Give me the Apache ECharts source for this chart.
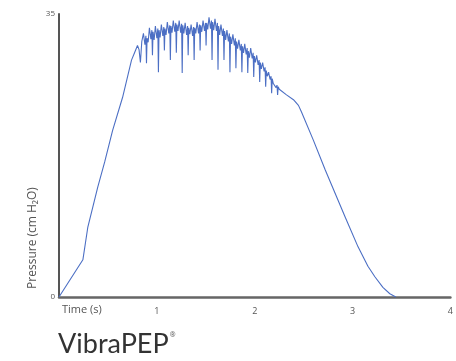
<!DOCTYPE html>
<html>
<head>
<meta charset="utf-8">
<script src="https://cdn.jsdelivr.net/npm/echarts@6/dist/echarts.min.js"></script>
<style>
  html, body { margin: 0; padding: 0; background: #fff; }
  #chart { width: 456px; height: 361px; }
</style>
</head>
<body>
<div id="chart"></div>
<script>
// Pressure trace during one exhalation through the device:
// rise, oscillating plateau, then release back to zero.
const timeSec = [
  // rise
  0.000, 0.244, 0.294, 0.396, 0.467, 0.548, 0.650, 0.741, 0.772, 0.802, 0.818, 0.832, 0.846,
  // oscillating plateau
  0.863, 0.878, 0.888, 0.894, 0.900, 0.911,
  0.924, 0.939, 0.949, 0.955, 0.961, 0.972,
  0.985, 1.000, 1.010, 1.016, 1.022, 1.033,
  1.046, 1.061, 1.071, 1.077, 1.083, 1.094,
  1.107, 1.122, 1.132, 1.138, 1.144, 1.155,
  1.168, 1.183, 1.193, 1.199, 1.205, 1.216,
  1.228, 1.243, 1.253, 1.259, 1.265, 1.276,
  1.289, 1.304, 1.314, 1.320, 1.326, 1.337,
  1.350, 1.365, 1.375, 1.381, 1.387, 1.398,
  1.411, 1.426, 1.436, 1.442, 1.448, 1.459,
  1.472, 1.487, 1.497, 1.503, 1.509, 1.520,
  1.533, 1.548, 1.558, 1.564, 1.570, 1.581,
  1.594, 1.609, 1.619, 1.625, 1.631, 1.642,
  1.655, 1.670, 1.680, 1.686, 1.692, 1.703,
  1.716, 1.731, 1.741, 1.747, 1.753, 1.764,
  1.777, 1.792, 1.802, 1.808, 1.814, 1.825,
  1.838, 1.853, 1.863, 1.869, 1.875, 1.886,
  1.898, 1.913, 1.923, 1.929, 1.935, 1.946,
  1.959, 1.974, 1.984, 1.990, 1.996, 2.007,
  2.020, 2.035, 2.045, 2.051, 2.057, 2.068,
  2.081, 2.096, 2.106, 2.112, 2.118, 2.129,
  2.142, 2.157, 2.167, 2.173, 2.179, 2.190,
  2.203, 2.218, 2.228, 2.234, 2.240, 2.251,
  // release
  2.264, 2.325, 2.396, 2.447, 2.477, 2.599, 2.721, 2.924, 3.056, 3.157,
  3.228, 3.310, 3.381, 3.442
];
const pressureCmH2O = [
  0.0, 4.6, 8.6, 13.6, 16.7, 20.6, 24.7, 29.3, 30.2, 31.1, 30.6, 29.0, 31.6,
  32.6, 31.2, 32.3, 28.9, 32.0, 31.5,
  33.3, 31.9, 33.0, 29.9, 32.8, 31.8,
  33.5, 32.0, 33.2, 27.8, 33.0, 32.1,
  33.7, 32.3, 33.4, 30.5, 33.2, 32.4,
  34.0, 32.6, 33.6, 29.3, 33.5, 32.7,
  34.2, 32.8, 33.9, 30.2, 33.7, 32.9,
  34.2, 32.7, 33.8, 27.7, 33.6, 32.6,
  33.9, 32.4, 33.5, 29.9, 33.3, 32.5,
  33.7, 32.3, 33.4, 29.3, 33.3, 32.6,
  34.0, 32.6, 33.7, 30.5, 33.6, 32.8,
  34.2, 32.9, 33.9, 31.1, 33.9, 33.1,
  34.6, 33.2, 34.2, 29.3, 34.0, 33.0,
  34.4, 32.9, 33.9, 28.1, 33.5, 32.4,
  33.7, 32.3, 33.2, 29.3, 32.9, 31.8,
  33.0, 31.6, 32.6, 27.8, 32.2, 31.3,
  32.5, 31.1, 32.0, 28.3, 31.6, 30.7,
  31.8, 30.5, 31.3, 27.8, 31.0, 30.2,
  31.3, 30.0, 30.8, 27.7, 30.4, 29.6,
  30.8, 29.5, 30.2, 27.2, 29.8, 29.0,
  29.9, 28.7, 29.3, 26.6, 29.0, 28.2,
  29.0, 27.9, 28.4, 26.0, 28.0, 27.3,
  27.8, 26.9, 27.3, 25.2, 27.0, 26.4,
  26.6, 25.9, 26.2, 25.0, 26.0, 25.7,
  25.6, 25.0, 24.4, 23.7, 22.9, 19.4, 15.7, 9.9, 6.2, 3.8,
  2.5, 1.2, 0.4, 0.0
];
const xTicks = [0, 1, 2, 3, 4];
const yTicks = [0, 35];

const trace = timeSec.map((t, i) => [t, pressureCmH2O[i]]);

const chart = echarts.init(document.getElementById('chart'), null, { renderer: 'canvas' });
const font = '"Open Sans", "Noto Sans", sans-serif';

chart.setOption({
  animation: false,
  backgroundColor: '#ffffff',
  grid: { left: 59, right: 3, top: 14, bottom: 64 },
  xAxis: {
    type: 'value',
    min: xTicks[0],
    max: xTicks[xTicks.length - 1],
    interval: 1,
    axisLine: { show: true, onZero: false, lineStyle: { color: '#666', width: 2.5 } },
    axisTick: { show: false },
    splitLine: { show: false },
    axisLabel: {
      color: '#555', fontSize: 9, fontFamily: font, margin: 10,
      formatter: v => (v === 0 ? '' : String(v))
    }
  },
  yAxis: {
    type: 'value',
    min: yTicks[0],
    max: yTicks[1],
    interval: 35,
    axisLine: { show: true, lineStyle: { color: '#555', width: 2 } },
    axisTick: { show: false },
    splitLine: { show: false },
    axisLabel: { color: '#555', fontSize: 8, fontFamily: font, margin: 4 }
  },
  series: [{
    type: 'line',
    data: trace,
    showSymbol: false,
    smooth: false,
    lineStyle: { color: '#4c6fc4', width: 1.1 },
    z: 3
  }],
  graphic: [
    {
      type: 'text',
      left: 62, top: 304,
      style: { text: 'Time (s)', fill: '#555', fontSize: 11, fontFamily: font }
    },
    {
      type: 'text',
      x: 33, y: 238,
      rotation: Math.PI / 2,
      style: {
        text: 'Pressure (cm H₂O)', fill: '#555', fontSize: 12, fontFamily: font,
        align: 'center', verticalAlign: 'middle'
      }
    },
    {
      type: 'text',
      left: 58, top: 331,
      style: {
        text: '{m|VibraPEP}{s|®}',
        rich: {
          m: { fontSize: 27, fill: '#333', fontFamily: 'Lato, "Open Sans", sans-serif' },
          s: { fontSize: 7, fill: '#555', fontFamily: font, verticalAlign: 'top', padding: [0, 0, 14, 1] }
        }
      }
    }
  ]
});
</script>
</body>
</html>
